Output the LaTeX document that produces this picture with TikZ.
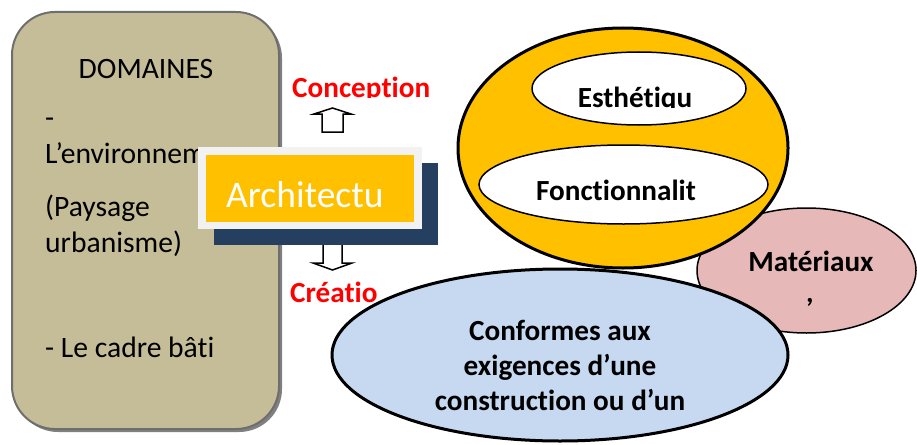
\documentclass[tikz,border=0pt]{standalone}
\usepackage{fontspec}
\setmainfont{Carlito}[Ligatures={NoCommon,NoRare,NoContextual}]
\usetikzlibrary{shapes.geometric}
\newcommand\nolig{\kern0pt }
\definecolor{domfill}{HTML}{C4BD97}
\definecolor{domline}{HTML}{6E6E6E}
\definecolor{domshadow}{HTML}{808080}
\definecolor{navy}{HTML}{243F60}
\definecolor{frame}{HTML}{F2F2F2}
\definecolor{orng}{HTML}{FFC000}
\definecolor{pink}{HTML}{E6B9B8}
\definecolor{lblue}{HTML}{C6D9F1}
\definecolor{redtxt}{HTML}{FF0000}
\begin{document}
\begin{tikzpicture}[x=1pt,y=-1pt,
  txt/.style={inner sep=0pt, font=\fontsize{29.6}{34}\selectfont},
  btxt/.style={inner sep=0pt, font=\fontsize{29.2}{34}\selectfont\bfseries},
  rtxt/.style={inner sep=0pt, text=redtxt, font=\fontsize{29.2}{34}\selectfont\bfseries},
  ell/.style={ellipse, draw=black, inner sep=0pt},
  blockarrow/.style={draw=black, fill=white, line width=1.5pt, line join=miter}]
\useasboundingbox (0,0) rectangle (917,444);
% left box
\node[draw=none, fill=domshadow, rounded corners=43pt, minimum width=267pt, minimum height=417pt, inner sep=0pt] (domsh) at (148.5,223.5) {};
\node[draw=domline, line width=2pt, fill=domfill, rounded corners=43pt, minimum width=267pt, minimum height=417pt, inner sep=0pt] (dom) at (145.5,220.5) {};
\node[txt, anchor=base] (t1) at (146,78) {DOMAINES};
\node[txt, anchor=base west] (t2) at (45,127) {-};
\node[txt, anchor=base west] (t3) at (45,163) {L’environnem};
\node[txt, anchor=base west] (t4) at (45,216) {(Paysage};
\node[txt, anchor=base west] (t5) at (45,252) {urbanisme)};
\node[txt, anchor=base west] (t6) at (45,357) {- Le cadre bât\nolig i};
% arrows
\draw[blockarrow] (322,132) -- (322,114) -- (314,114) -- (332.5,108) -- (351,114) -- (343,114) -- (343,132) -- cycle;
\draw[blockarrow] (323,240) -- (323,263) -- (313,263) -- (332.5,270) -- (352,263) -- (342,263) -- (342,240) -- cycle;
% architecture box
\node[fill=navy, minimum width=224pt, minimum height=82pt, inner sep=0pt] (archsh) at (326,204) {};
\node[fill=frame, minimum width=224pt, minimum height=82pt, inner sep=0pt] (archfr) at (310,188) {};
\node[fill=orng, minimum width=208pt, minimum height=67pt, inner sep=0pt] (arch) at (310,188.5) {};
\node[inner sep=0pt, text=white, anchor=base west, font=\fontsize{37.5}{40}\selectfont] (archt) at (226,207) {Architectu};
% red labels
\begin{scope}
\clip (280,60) rectangle (445,97);
\node[rtxt, anchor=base west] (conc) at (292,97) {Concept\nolig ion};
\end{scope}
\node[rtxt, anchor=base west] (crea) at (290,302) {Créat\nolig io};
% ellipses
\node[ell, fill=pink, line width=1.5pt, minimum width=219pt, minimum height=125pt] (mat) at (806.5,270.5) {};
\node[ell, fill=lblue, line width=3pt, minimum width=456pt, minimum height=172pt] (conf) at (560,355) {};
\node[ell, fill=orng, line width=3pt, minimum width=330pt, minimum height=240pt] (qual) at (623,148) {};
\node[ell, fill=white, line width=1.5pt, minimum width=214pt, minimum height=73pt] (esth) at (639,88.5) {};
\node[ell, fill=white, line width=1.5pt, minimum width=289pt, minimum height=79pt] (fonc) at (623.5,184.5) {};
\begin{scope}
\clip (540,60) rectangle (740,107.5);
\node[btxt, anchor=base] (estht) at (635,107) {Esthét\nolig iqu};
\end{scope}
\node[btxt, anchor=base] (fonct) at (616,200) {Fonct\nolig ionnalit};
\node[btxt, anchor=base] (matt) at (811,271) {Matériaux};
\node[btxt, anchor=base] (matc) at (810,302) {,};
\node[btxt, anchor=base] (c1) at (560,340) {Conformes aux};
\node[btxt, anchor=base] (c2) at (560,375) {exigences d’une};
\node[btxt, anchor=base] (c3) at (560,410) {construct\nolig ion ou d’un};
\end{tikzpicture}
\end{document}
